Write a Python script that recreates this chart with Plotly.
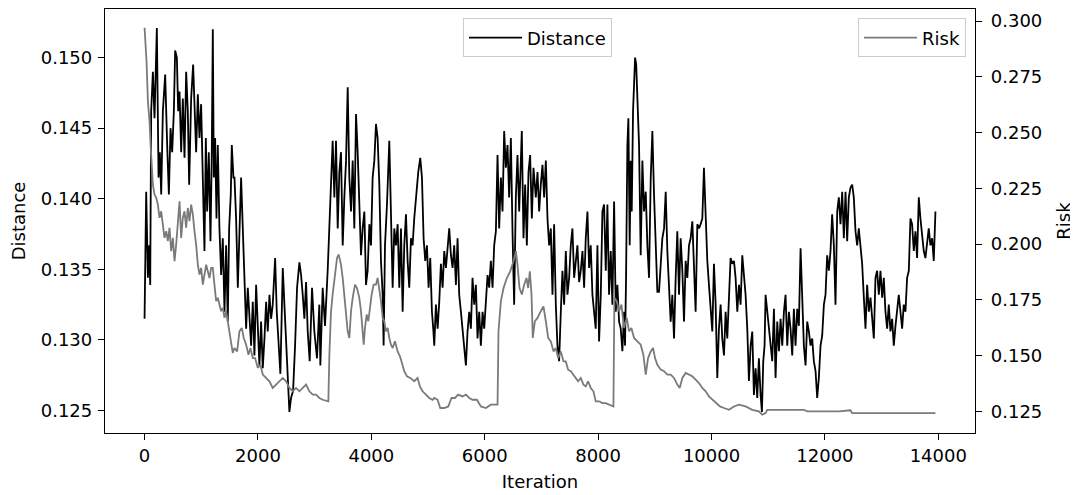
import plotly.graph_objects as go

# ---------------- data ----------------
dist_iter = [0, 29, 59, 82, 100, 117, 147, 176, 217, 247, 270, 294, 323, 364, 399, 429, 458, 487, 517, 540,
             570, 593, 617, 646, 675, 705, 734, 763, 787, 822, 857, 887, 910, 940, 969, 998, 1028, 1057, 1081, 1104,
             1133, 1163, 1186, 1204, 1222, 1245, 1269, 1292, 1321, 1351, 1380, 1410, 1439, 1468, 1492, 1521, 1539, 1568,
             1586, 1615, 1645, 1674, 1703, 1733, 1762, 1792, 1821, 1850, 1880, 1909, 1938, 1968, 1997, 2026, 2056, 2085,
             2115, 2144, 2173, 2203, 2232, 2261, 2303, 2332, 2396, 2438, 2467, 2496, 2526, 2555, 2584, 2620, 2655, 2690,
             2731, 2761, 2790, 2819, 2849, 2878, 2913, 2954, 2995, 3042, 3083, 3101, 3142, 3183, 3230, 3260, 3289, 3318,
             3348, 3377, 3407, 3436, 3465, 3495, 3524, 3554, 3583, 3612, 3642, 3671, 3700, 3730, 3759, 3788, 3818, 3847,
             3877, 3906, 3935, 3965, 3994, 4023, 4053, 4082, 4111, 4141, 4170, 4200, 4217, 4241, 4276, 4317, 4346, 4376,
             4405, 4434, 4464, 4493, 4523, 4552, 4581, 4611, 4640, 4669, 4699, 4728, 4757, 4787, 4828, 4863, 4893, 4922,
             4951, 4981, 5010, 5039, 5069, 5092, 5110, 5139, 5169, 5198, 5227, 5257, 5286, 5316, 5345, 5374, 5404, 5433,
             5462, 5492, 5521, 5550, 5580, 5609, 5639, 5668, 5697, 5727, 5756, 5785, 5815, 5844, 5873, 5903, 5932, 5962,
             5991, 6020, 6050, 6079, 6108, 6138, 6167, 6197, 6226, 6255, 6285, 6314, 6343, 6373, 6402, 6431, 6461, 6490,
             6519, 6549, 6578, 6608, 6637, 6654, 6684, 6713, 6743, 6772, 6801, 6831, 6860, 6901, 6931, 6960, 6989, 7019,
             7048, 7078, 7107, 7136, 7166, 7195, 7224, 7254, 7283, 7312, 7342, 7371, 7401, 7430, 7459, 7489, 7518, 7547,
             7577, 7606, 7635, 7665, 7694, 7724, 7753, 7782, 7812, 7841, 7870, 7900, 7929, 7958, 7988, 8017, 8047, 8076,
             8105, 8135, 8164, 8193, 8223, 8252, 8282, 8311, 8340, 8370, 8399, 8428, 8458, 8475, 8493, 8516, 8534, 8557,
             8575, 8593, 8616, 8634, 8652, 8672, 8693, 8722, 8751, 8781, 8810, 8840, 8869, 8898, 8928, 8957, 8986, 9016,
             9045, 9074, 9104, 9133, 9163, 9192, 9221, 9251, 9280, 9309, 9339, 9368, 9397, 9427, 9456, 9486, 9515, 9544,
             9574, 9603, 9632, 9662, 9691, 9720, 9750, 9779, 9808, 9838, 9867, 9897, 9926, 9955, 9985, 10014, 10043, 10073,
             10102, 10131, 10161, 10190, 10220, 10249, 10278, 10308, 10337, 10366, 10396, 10425, 10455, 10484, 10513,
             10543, 10572, 10601, 10631, 10660, 10690, 10719, 10748, 10778, 10807, 10836, 10866, 10889, 10913, 10936,
             10954, 10983, 11013, 11042, 11071, 11101, 11130, 11160, 11189, 11218, 11248, 11277, 11306, 11336, 11365,
             11394, 11424, 11453, 11482, 11512, 11541, 11571, 11600, 11629, 11659, 11688, 11717, 11747, 11776, 11805,
             11835, 11864, 11893, 11923, 11952, 11982, 12011, 12040, 12070, 12099, 12128, 12158, 12187, 12217, 12246,
             12275, 12305, 12334, 12364, 12393, 12422, 12452, 12481, 12510, 12540, 12569, 12598, 12628, 12657, 12687,
             12716, 12745, 12775, 12804, 12833, 12863, 12892, 12921, 12951, 12980, 13010, 13039, 13068, 13098, 13127,
             13156, 13186, 13215, 13245, 13274, 13303, 13333, 13362, 13391, 13421, 13450, 13480, 13509, 13538, 13568,
             13597, 13626, 13656, 13685, 13714, 13744, 13773, 13803, 13832, 13861, 13891, 13920, 13950]
dist_val = [0.1315, 0.1405, 0.1344, 0.1367, 0.1339, 0.1462, 0.1490, 0.1457, 0.1521, 0.1415, 0.1433, 0.1403, 0.1462,
            0.1488, 0.1438, 0.1403, 0.1450, 0.1433, 0.1462, 0.1505, 0.1500, 0.1462, 0.1476, 0.1433, 0.1471, 0.1429,
            0.1490, 0.1462, 0.1410, 0.1471, 0.1495, 0.1450, 0.1433, 0.1474, 0.1443, 0.1467, 0.1401, 0.1363, 0.1443,
            0.1391, 0.1433, 0.1370, 0.1433, 0.1520, 0.1415, 0.1443, 0.1386, 0.1438, 0.1379, 0.1346, 0.1372, 0.1320,
            0.1367, 0.1313, 0.1379, 0.1403, 0.1438, 0.1415,
            0.1415, 0.1386, 0.1337, 0.1379, 0.1415, 0.1379, 0.1344, 0.1308, 0.1337, 0.1315, 0.1296, 0.1327, 0.1289,
            0.1339, 0.1306, 0.1282, 0.1313, 0.1280, 0.1301, 0.1327, 0.1306, 0.1332, 0.1315, 0.1325, 0.1358, 0.1320,
            0.1276, 0.1351, 0.1325, 0.1296, 0.1273, 0.1249, 0.1259, 0.1264, 0.1296, 0.1337, 0.1355, 0.1346, 0.1332,
            0.1315, 0.1341, 0.1306, 0.1285, 0.1337, 0.1306, 0.1287, 0.1325, 0.1282, 0.1337, 0.1310, 0.1349, 0.1382,
            0.1415, 0.1441,
            0.1401, 0.1441, 0.1379, 0.1419, 0.1433, 0.1367, 0.1401, 0.1427, 0.1479, 0.1415, 0.1391, 0.1427, 0.1379,
            0.1460, 0.1433, 0.1391, 0.1360, 0.1379, 0.1391, 0.1339, 0.1349, 0.1382, 0.1367, 0.1415, 0.1427, 0.1453,
            0.1443, 0.1410, 0.1356, 0.1332, 0.1296, 0.1367, 0.1396, 0.1441, 0.1391, 0.1337, 0.1379, 0.1367, 0.1382,
            0.1337, 0.1379, 0.1320, 0.1367, 0.1389, 0.1356, 0.1337, 0.1372, 0.1367, 0.1386, 0.1401, 0.1419, 0.1429,
            0.1415, 0.1372, 0.1356, 0.1367, 0.1337, 0.1358, 0.1320, 0.1308,
            0.1296, 0.1325, 0.1308, 0.1327, 0.1354, 0.1337, 0.1363, 0.1351, 0.1363, 0.1379, 0.1360, 0.1351, 0.1367,
            0.1339, 0.1372, 0.1332, 0.1320, 0.1308, 0.1296, 0.1282, 0.1306, 0.1320, 0.1308, 0.1344, 0.1325, 0.1339,
            0.1301, 0.1320, 0.1296, 0.1320, 0.1308, 0.1325, 0.1346, 0.1337, 0.1356, 0.1337, 0.1367, 0.1377, 0.1431,
            0.1379, 0.1415, 0.1391, 0.1448, 0.1422, 0.1438, 0.1401, 0.1443, 0.1377, 0.1325, 0.1401, 0.1431, 0.1391,
            0.1433, 0.1448, 0.1372, 0.1410, 0.1367, 0.1419, 0.1431, 0.1386, 0.1422,
            0.1401, 0.1419, 0.1391, 0.1410, 0.1424, 0.1401, 0.1427, 0.1386, 0.1367, 0.1379, 0.1332, 0.1382, 0.1325,
            0.1296, 0.1285, 0.1320, 0.1349, 0.1325, 0.1363, 0.1332, 0.1344, 0.1367, 0.1379, 0.1344, 0.1356, 0.1367,
            0.1341, 0.1349, 0.1363, 0.1337, 0.1372, 0.1391, 0.1351, 0.1367, 0.1332, 0.1320, 0.1308, 0.1367, 0.1299,
            0.1332, 0.1391, 0.1396, 0.1349, 0.1396, 0.1332, 0.1363, 0.1325, 0.1398, 0.1320, 0.1339, 0.1313, 0.1308,
            0.1292, 0.1320, 0.1296, 0.1344, 0.1438, 0.1457, 0.1367, 0.1427, 0.1391, 0.1462, 0.1486, 0.1500, 0.1495,
            0.1474, 0.1438, 0.1360, 0.1427, 0.1391, 0.1405, 0.1367, 0.1344, 0.1415, 0.1448, 0.1403, 0.1372, 0.1334,
            0.1334, 0.1356, 0.1372, 0.1379, 0.1405, 0.1363, 0.1339, 0.1313, 0.1332, 0.1301, 0.1344, 0.1377, 0.1332,
            0.1372, 0.1349, 0.1313, 0.1356, 0.1344, 0.1367, 0.1372, 0.1384, 0.1349, 0.1320, 0.1382, 0.1379, 0.1382,
            0.1386, 0.1422, 0.1379, 0.1356, 0.1339, 0.1320, 0.1306, 0.1354, 0.1325, 0.1273, 0.1308, 0.1325, 0.1301,
            0.1289, 0.1320, 0.1301, 0.1332, 0.1358, 0.1354,
            0.1356, 0.1344, 0.1320, 0.1339, 0.1325, 0.1360, 0.1344, 0.1332, 0.1308, 0.1271, 0.1296, 0.1306, 0.1261,
            0.1280, 0.1259, 0.1287, 0.1261, 0.1249, 0.1285, 0.1296, 0.1332, 0.1320, 0.1310, 0.1301, 0.1285, 0.1322,
            0.1273, 0.1313, 0.1292, 0.1315, 0.1296, 0.1320, 0.1332, 0.1296, 0.1320, 0.1308, 0.1289, 0.1322, 0.1296,
            0.1322, 0.1310, 0.1365, 0.1332, 0.1296, 0.1282, 0.1313, 0.1306, 0.1296, 0.1301, 0.1285, 0.1278, 0.1259,
            0.1273, 0.1296, 0.1303, 0.1325, 0.1332, 0.1360, 0.1349, 0.1363, 0.1389,
            0.1367, 0.1325, 0.1391, 0.1401, 0.1382, 0.1405, 0.1372, 0.1405, 0.1370, 0.1401, 0.1408, 0.1410, 0.1401,
            0.1377, 0.1367, 0.1379, 0.1363, 0.1354, 0.1330, 0.1308, 0.1339, 0.1320, 0.1330, 0.1315, 0.1301, 0.1344,
            0.1349, 0.1332, 0.1349, 0.1330, 0.1344, 0.1320, 0.1308, 0.1325, 0.1306, 0.1315, 0.1296, 0.1310, 0.1320,
            0.1332, 0.1320, 0.1308, 0.1325, 0.1320, 0.1344, 0.1349, 0.1386, 0.1382, 0.1363, 0.1377, 0.1358, 0.1401,
            0.1386, 0.1372, 0.1363, 0.1358, 0.1370, 0.1379, 0.1367, 0.1372, 0.1356, 0.1391]

risk_iter = [0, 18, 35, 59, 88, 106, 129, 147, 176, 206, 235, 264, 294, 323, 352, 382, 411, 440, 470, 499, 529, 558,
             587, 617, 646, 675, 705, 734, 763, 793, 822, 852, 881, 910, 940, 969, 998, 1028, 1057, 1087, 1116, 1145,
             1175, 1204, 1233, 1263, 1292, 1321, 1351, 1380, 1410, 1439, 1468, 1498, 1527, 1556,
             1586, 1633, 1674, 1715, 1750, 1792, 1833, 1868, 1909, 1950, 1997, 2044, 2085, 2144, 2203, 2261, 2320,
             2379, 2438, 2496, 2555, 2614, 2672, 2731, 2790, 2849, 2907, 2966, 3025, 3083, 3142, 3219, 3242, 3260,
             3289, 3318,
             3348, 3395, 3424, 3465, 3495, 3524, 3554, 3583, 3612, 3642, 3671, 3712, 3747, 3788, 3818, 3847, 3865,
             3888, 3918, 3947, 3976, 4006, 4041, 4082, 4111, 4141, 4170, 4200, 4229, 4258, 4288, 4317, 4346, 4376,
             4417, 4464, 4505, 4540, 4581, 4628, 4687, 4757, 4816, 4857, 4904, 4963, 5022, 5081,
             5110, 5169, 5216, 5286, 5357, 5415, 5474, 5533, 5609, 5668, 5727, 5785, 5862, 5932, 6020, 6108, 6226,
             6243, 6285, 6332, 6390, 6449, 6508, 6549, 6578, 6613, 6655, 6696, 6737, 6766, 6796, 6825, 6848,
             6884, 6931, 6989, 7036, 7078, 7119, 7166, 7213, 7254, 7295, 7342, 7389, 7430, 7471, 7518, 7565, 7606,
             7647, 7694, 7741, 7782, 7823, 7870, 7917, 7958, 8017, 8076, 8135, 8193, 8270, 8287, 8329, 8370, 8411,
             8458, 8505, 8546, 8587,
             8634, 8693, 8751, 8798, 8840, 8881, 8928, 8969, 9004, 9045, 9104, 9163, 9221, 9280, 9339, 9397, 9439,
             9486, 9544, 9603, 9662, 9720, 9779, 9838, 9897, 9955, 10014, 10073, 10149, 10220, 10308, 10396, 10484,
             10601, 10719, 10836, 10895, 10954, 10983, 11629, 11688, 12246, 12452, 12481, 13950]
risk_val = [0.2970, 0.2895, 0.2821, 0.2641, 0.2551, 0.2447, 0.2327, 0.2267, 0.2222, 0.2207, 0.2177, 0.2118, 0.2147,
            0.2088, 0.2028, 0.2058, 0.2013, 0.2073, 0.1968, 0.2028, 0.1923, 0.1998, 0.2118, 0.2192, 0.2028, 0.2118,
            0.2147, 0.2073, 0.2162, 0.2103, 0.2177, 0.2133, 0.2058, 0.1998, 0.1908, 0.1863, 0.1893, 0.1818, 0.1863,
            0.1908, 0.1878, 0.1848, 0.1893, 0.1893, 0.1818, 0.1744, 0.1759, 0.1729, 0.1699, 0.1714, 0.1669, 0.1699,
            0.1654, 0.1609, 0.1564, 0.1512,
            0.1534, 0.1519, 0.1609, 0.1624, 0.1579, 0.1549, 0.1504, 0.1534, 0.1489, 0.1489, 0.1445, 0.1459, 0.1415,
            0.1400, 0.1385, 0.1355, 0.1370, 0.1385, 0.1400, 0.1385, 0.1355, 0.1340, 0.1355, 0.1340, 0.1355, 0.1370,
            0.1340, 0.1325, 0.1325, 0.1310, 0.1302, 0.1295, 0.1295, 0.1504, 0.1699, 0.1774,
            0.1848, 0.1938, 0.1953, 0.1908, 0.1848, 0.1774, 0.1699, 0.1609, 0.1579, 0.1699, 0.1759, 0.1818, 0.1803,
            0.1759, 0.1699, 0.1624, 0.1549, 0.1624, 0.1684, 0.1654, 0.1729, 0.1774, 0.1818, 0.1818, 0.1848, 0.1803,
            0.1744, 0.1669, 0.1654, 0.1609, 0.1624, 0.1579, 0.1549, 0.1534, 0.1564, 0.1519, 0.1497, 0.1467, 0.1430,
            0.1407, 0.1400, 0.1385, 0.1400, 0.1362, 0.1340, 0.1325, 0.1310, 0.1302,
            0.1310, 0.1302, 0.1265, 0.1265, 0.1272, 0.1310, 0.1310, 0.1325, 0.1317, 0.1325, 0.1310, 0.1302, 0.1302,
            0.1272, 0.1265, 0.1280, 0.1280, 0.1609, 0.1744, 0.1803, 0.1848, 0.1878, 0.1923, 0.1968, 0.1908, 0.1803,
            0.1774, 0.1818, 0.1848, 0.1803, 0.1878, 0.1774, 0.1579, 0.1654, 0.1669, 0.1699, 0.1721, 0.1654, 0.1579,
            0.1564, 0.1519, 0.1534, 0.1489, 0.1519, 0.1474, 0.1474, 0.1437, 0.1430, 0.1415, 0.1400, 0.1385, 0.1400,
            0.1370, 0.1362, 0.1385, 0.1355, 0.1340, 0.1295, 0.1295, 0.1287, 0.1287, 0.1280, 0.1272, 0.1759, 0.1744,
            0.1699, 0.1729, 0.1624, 0.1669, 0.1609, 0.1624,
            0.1579, 0.1564, 0.1549, 0.1504, 0.1415, 0.1489, 0.1519, 0.1534, 0.1489, 0.1459, 0.1437, 0.1430, 0.1415,
            0.1415, 0.1400, 0.1370, 0.1355, 0.1400, 0.1422, 0.1415, 0.1407, 0.1392, 0.1377, 0.1355, 0.1340, 0.1317,
            0.1302, 0.1287, 0.1272, 0.1265, 0.1257, 0.1272, 0.1280, 0.1272, 0.1257, 0.1250, 0.1235, 0.1242, 0.1257,
            0.1257, 0.1250, 0.1250, 0.1255, 0.1242, 0.1242]

x_ticks = [0, 2000, 4000, 6000, 8000, 10000, 12000, 14000]
dist_ticks = [0.125, 0.130, 0.135, 0.140, 0.145, 0.150]
risk_ticks = [0.125, 0.150, 0.175, 0.200, 0.225, 0.250, 0.275, 0.300]

FONT = "DejaVu Sans"
FS = 18

fig = go.Figure()
fig.add_trace(go.Scatter(x=dist_iter, y=dist_val, mode="lines", name="Distance",
                         line=dict(color="black", width=1.8), legend="legend"))
fig.add_trace(go.Scatter(x=risk_iter, y=risk_val, mode="lines", name="Risk", yaxis="y2",
                         line=dict(color="#7a7a7a", width=1.8), legend="legend2"))

axis_common = dict(showgrid=False, zeroline=False, showline=True, linecolor="black", linewidth=1.3,
                   ticks="outside", ticklen=6, tickwidth=1.3, tickcolor="black", automargin=False,
                   tickfont=dict(family=FONT, size=FS, color="black"))

fig.update_layout(
    width=1078, height=495,
    margin=dict(l=97, r=111, t=1, b=70),
    paper_bgcolor="white", plot_bgcolor="white",
    font=dict(family=FONT, size=FS, color="black"),
    xaxis=dict(range=[-697.5, 14647.5], tickvals=x_ticks, ticktext=[str(t) for t in x_ticks],
               mirror=True, title=dict(text="Iteration", font=dict(size=FS), standoff=10), **axis_common),
    yaxis=dict(range=[0.12341, 0.15344], tickvals=dist_ticks, ticktext=[f"{t:.3f}" for t in dist_ticks],
               ticklabelstandoff=2,
               title=dict(text="Distance", font=dict(size=FS), standoff=11), **axis_common),
    yaxis2=dict(range=[0.1153, 0.3054], tickvals=risk_ticks, ticktext=[f"{t:.3f}" for t in risk_ticks],
                overlaying="y", side="right", ticklabelstandoff=5,
                title=dict(text="Risk", font=dict(size=FS), standoff=16), **axis_common),
    legend=dict(x=0.4115, y=0.978, xanchor="left", yanchor="top", bgcolor="rgba(255,255,255,0.8)",
                bordercolor="#cccccc", borderwidth=1, itemwidth=53, font=dict(family=FONT, size=FS)),
    legend2=dict(x=0.9897, y=0.978, xanchor="right", yanchor="top", bgcolor="rgba(255,255,255,0.8)",
                 bordercolor="#cccccc", borderwidth=1, itemwidth=53, font=dict(family=FONT, size=FS)),
    showlegend=True,
)

fig.write_html("out.html")
